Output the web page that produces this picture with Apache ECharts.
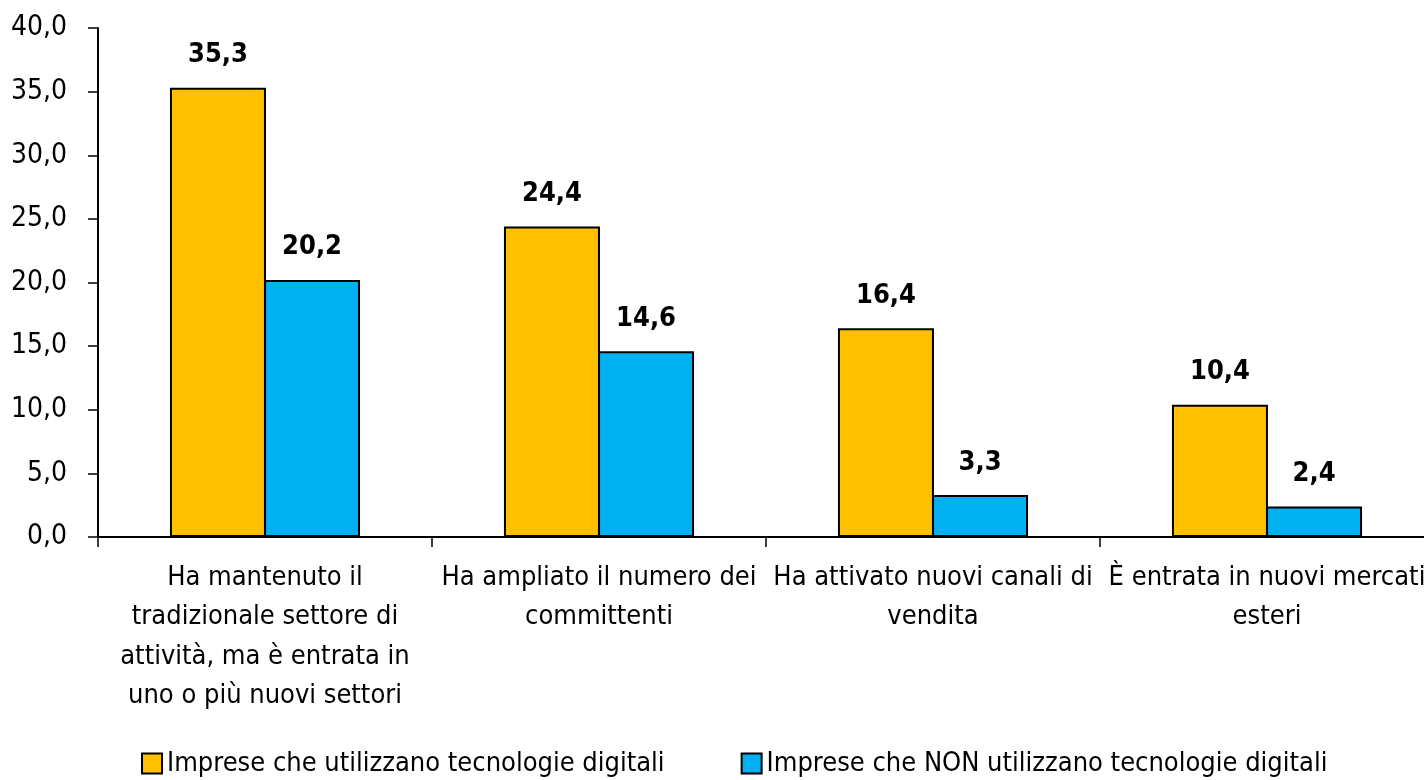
<!DOCTYPE html>
<html>
<head>
<meta charset="utf-8">
<script src="https://cdn.jsdelivr.net/npm/echarts@6/dist/echarts.min.js"></script>
<style>
  html, body { margin: 0; padding: 0; background: #fff; }
  #grafico { width: 1424px; height: 780px; }
</style>
</head>
<body>
<div id="grafico"></div>
<script>
// dati
var categorie = [
    'Ha mantenuto il\ntradizionale settore di\nattività, ma è entrata in\nuno o più nuovi settori',
    'Ha ampliato il numero dei\ncommittenti',
    'Ha attivato nuovi canali di\nvendita',
    'È entrata in nuovi mercati\nesteri'
];
var nomiSerie = [
    'Imprese che utilizzano tecnologie digitali',
    'Imprese che NON utilizzano tecnologie digitali'
];
var digitali = [35.3, 24.4, 16.4, 10.4];
var nonDigitali = [20.2, 14.6, 3.3, 2.4];
var tickY = [0, 5, 10, 15, 20, 25, 30, 35, 40];

var font = "'Liberation Sans Narrow', 'DejaVu Sans Condensed', sans-serif";

function virgola(v, dec) {
    return v.toFixed(dec).replace('.', ',');
}

function exibeGrafico() {
    var myChart = echarts.init(document.getElementById('grafico'));

    var etichetta = {
        show: true,
        position: 'top',
        distance: 19,
        fontFamily: font,
        fontSize: 27,
        fontWeight: 'bold',
        color: '#000',
        formatter: function (p) { return virgola(p.value, 1); }
    };

    var option = {
        animation: false,
        textStyle: { fontFamily: font },
        grid: {
            left: 98, top: 28, right: -10, bottom: 243,
            containLabel: false,
            outerBoundsMode: 'none'
        },
        legend: {
            top: 745,
            left: 136,
            itemWidth: 20,
            itemHeight: 20,
            itemGap: 76,
            icon: 'rect',
            width: 1400,
            textStyle: { fontFamily: font, fontSize: 27, color: '#000' },
            data: nomiSerie
        },
        xAxis: {
            type: 'category',
            data: categorie,
            axisLine: { lineStyle: { color: '#000', width: 2 } },
            axisTick: { show: true, length: 10, inside: false, lineStyle: { color: '#000', width: 1.5 } },
            axisLabel: {
                fontFamily: font,
                fontSize: 27,
                color: '#000',
                lineHeight: 39.5,
                margin: 21,
                interval: 0
            }
        },
        yAxis: {
            type: 'value',
            min: tickY[0],
            max: tickY[tickY.length - 1],
            interval: 5,
            splitLine: { show: false },
            axisLine: { show: true, lineStyle: { color: '#000', width: 2 } },
            axisTick: { show: true, length: 10, lineStyle: { color: '#000', width: 1.5 } },
            axisLabel: {
                fontFamily: font,
                fontSize: 28,
                color: '#000',
                margin: 31,
                formatter: function (v) { return virgola(v, 1); }
            }
        },
        series: [
            {
                name: nomiSerie[0],
                type: 'bar',
                data: digitali,
                barWidth: 96,
                barGap: '-2%',
                itemStyle: { color: '#FFC000', borderColor: '#000', borderWidth: 2 },
                label: etichetta
            },
            {
                name: nomiSerie[1],
                type: 'bar',
                data: nonDigitali,
                barWidth: 96,
                barGap: '-2%',
                itemStyle: { color: '#00B0F0', borderColor: '#000', borderWidth: 2 },
                label: etichetta
            }
        ]
    };

    myChart.setOption(option);
}

exibeGrafico();
</script>
</body>
</html>
